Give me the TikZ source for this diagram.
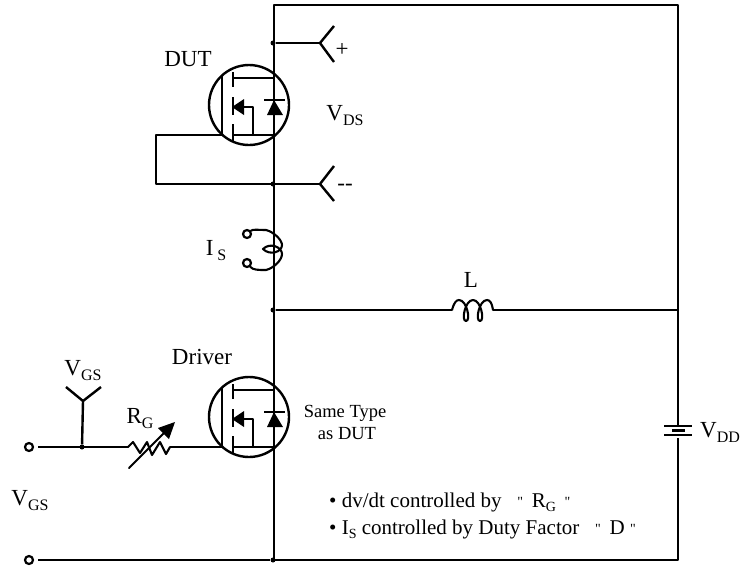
\documentclass[tikz,border=0pt]{standalone}
\usepackage{fontspec}
\setmainfont{Liberation Serif}
\newfontfamily\plainfont{Liberation Serif}
\usetikzlibrary{positioning}
\newcommand{\subt}[1]{\raisebox{-5pt}{\fontsize{16}{16}\selectfont #1}}
\newcommand{\subb}[1]{\raisebox{-4pt}{\fontsize{14}{14}\selectfont #1}}
\newcommand{\qmark}{\raisebox{1pt}{\plainfont\fontsize{14}{14}\selectfont "}}
\tikzset{
  wire/.style={line width=2.4pt, line join=round},
  thinwire/.style={line width=2.1pt, line join=round, line cap=round},
  lbl/.style={inner sep=0pt, font=\fontsize{23}{23}\selectfont},
  note/.style={inner sep=0pt, font=\fontsize{18.5}{18.5}\selectfont},
  bullet/.style={inner sep=0pt, anchor=west, font=\fontsize{21}{21}\selectfont},
  term/.style={circle, draw, line width=2.2pt, inner sep=0pt, minimum size=8pt},
  junction/.style={circle, fill, inner sep=0pt, minimum size=5pt},
}
% one transistor, sits at the centre of its circle
\newcommand{\mosfet}[2]{
  \begin{scope}[shift={(#1)}]
    \draw[wire] (0,0) circle (40);
    \draw[wire] (-27,-30) -- (-27,30);
    \draw[wire] (-16,-33) -- (-16,-18);
    \draw[wire] (-16,-8) -- (-16,10);
    \draw[wire] (-16,19) -- (-16,37);
    \draw[wire] (-16,-27) -- (25,-27);
    \draw[wire] (-16,30) -- (25,30);
    \draw[wire] (-5,2) -- (4,2) -- (4,30);
    \fill (-17,2) -- (-5,-6) -- (-5,10) -- cycle;
    \draw[wire] (15,-5) -- (36,-5);
    \fill (25,-5) -- (34,10) -- (18,10) -- cycle;
    \coordinate (#2gate) at (-27,30);
  \end{scope}
}
\begin{document}
\begin{tikzpicture}[x=1pt,y=-1pt]
  \useasboundingbox (0,0) rectangle (742,566);
  \mosfet{249,105}{dut}
  \mosfet{249,417}{drv}
  % outer loop
  \coordinate (topL) at (274,5);
  \coordinate (topR) at (678,5);
  \coordinate (botR) at (678,560);
  \coordinate (botL) at (274,560);
  \node[junction] (jplus) at (273,43) {};
  \node[junction] (jminus) at (273,184) {};
  \node[junction] (jmid) at (273,310) {};
  \node[junction] (jbot) at (273,560) {};
  \draw[wire] (botL) -- (topL) -- (topR) -- (678,426);
  \draw[wire] (678,438) -- (botR) -- (botL);
  % battery
  \draw[wire] (664,426) -- (692,426);
  \draw[wire] (672,430.5) -- (685,430.5);
  \draw[wire] (664,435) -- (692,435);
  % sense terminals
  \coordinate (plusY) at (320,43);
  \coordinate (minusY) at (320,184);
  \draw[wire] (jplus) -- (plusY);
  \draw[wire] (334,26) -- (plusY) -- (334,62);
  \draw[wire] (dutgate) -- (156,135) -- (156,184) -- (minusY);
  \draw[wire] (334,166) -- (minusY) -- (334,201);
  \node[lbl] (plus) at (342,50) {+};
  \node[lbl] (minus) at (345,187) {\plainfont --};
  \node[lbl] (dutlbl) at (188,59) {DUT};
  \node[lbl] (vds) at (345,116) {V\subt{DS}};
  % current probe
  \node[term] (probeA) at (247,234) {};
  \node[term] (probeB) at (247,263) {};
  \draw[thinwire] (probeA) .. controls (253,229) and (258,230) .. (266,230)
    .. controls (274,232) and (282,240) .. (282,245)
    .. controls (282,252) and (270,256) .. (263,249)
    .. controls (270,242) and (282,247) .. (282,254)
    .. controls (282,260) and (274,268) .. (266,270)
    .. controls (258,270) and (253,270) .. (probeB);
  \node[lbl] (islbl) at (216,251) {I\,\subt{S}};
  % inductor
  \coordinate (indA) at (452,310);
  \coordinate (indB) at (493,310);
  \draw[wire] (jmid) -- (indA);
  \draw[wire] (indB) -- (678,310);
  \draw[thinwire] (indA) .. controls (454,303) and (456,300) .. (459,300)
    .. controls (467,300) and (471,321) .. (466,321)
    .. controls (461,321) and (465,300) .. (473,300)
    .. controls (481,300) and (485,321) .. (480,321)
    .. controls (475,321) and (479,300) .. (487,300)
    .. controls (490,300) and (492,303) .. (indB);
  \node[lbl] (llbl) at (471,280) {L};
  % gate side
  \node[term] (inA) at (29,447) {};
  \node[term] (inB) at (29,560) {};
  \node[junction] (jgs) at (82,447) {};
  \coordinate (resA) at (128,447);
  \coordinate (resB) at (170,447);
  \coordinate (gsY) at (83,401);
  \draw[wire] (38,447) -- (resA);
  \draw[wire] (resB) -- (drvgate);
  \draw[wire] (38,560) -- (jbot);
  \draw[wire] (jgs) -- (gsY);
  \draw[wire] (66,387) -- (gsY) -- (101,387);
  \draw[thinwire] (resA) -- (133,442) -- (140,453) -- (147,442) -- (152,455) -- (160,442) -- (166,454) -- (resB);
  \draw[thinwire] (129,468) -- (166,431);
  \fill (175,422) -- (158,428) -- (169,439) -- cycle;
  \node[lbl] (vgstop) at (83,371) {V\subt{GS}};
  \node[lbl] (vgsleft) at (30,501) {V\subt{GS}};
  \node[lbl] (rglbl) at (140,419) {R\subt{G}};
  \node[lbl] (drvlbl) at (202,357) {Driver};
  \node[note] (same) at (345,413) {Same Type};
  \node[note] (asdut) at (347,434) {as DUT};
  \node[lbl] (vdd) at (720,432) {V\subt{DD}};
  \node[bullet] (noteA) at (329,502) {• dv/dt controlled by \ \ \qmark\ \,R\subb{G}\ \,\qmark};
  \node[bullet] (noteB) at (329,529) {• I\subb{S} controlled by Duty Factor \ \ \qmark\ \,D\ \qmark};
\end{tikzpicture}
\end{document}
